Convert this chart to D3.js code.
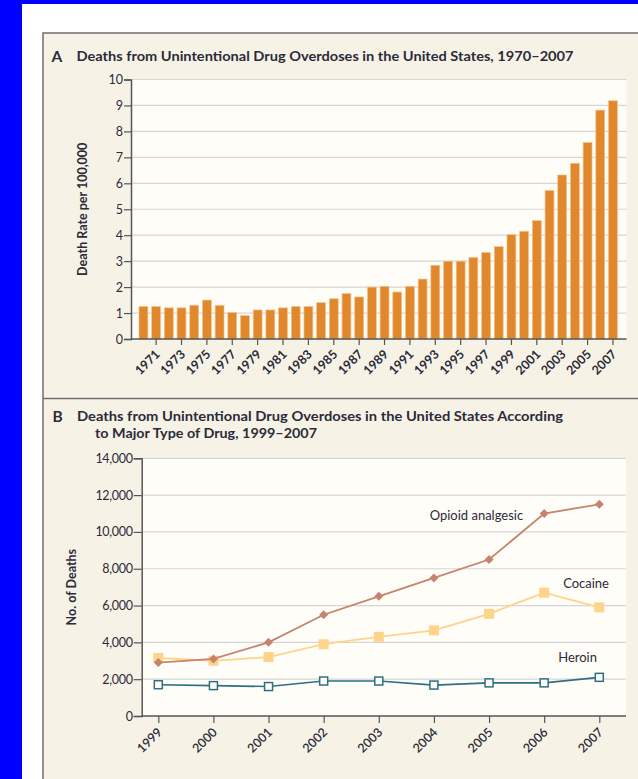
<!DOCTYPE html>
<html>
<head>
<meta charset="utf-8">
<script src="https://cdn.jsdelivr.net/npm/d3@7"></script>
<style>
  html, body { margin: 0; padding: 0; background: #ffffff; }
  svg { display: block; }
  text { font-family: Lato, "Open Sans", "DejaVu Sans", sans-serif; fill: #2b2b3a; }
</style>
</head>
<body>
<svg id="chart" width="638" height="779"></svg>
<script>
// Panel A: unintentional drug overdose death rate per 100,000, 1970-2007
const yearsA = [1970, 1971, 1972, 1973, 1974, 1975, 1976, 1977, 1978, 1979,
                1980, 1981, 1982, 1983, 1984, 1985, 1986, 1987, 1988, 1989,
                1990, 1991, 1992, 1993, 1994, 1995, 1996, 1997, 1998, 1999,
                2000, 2001, 2002, 2003, 2004, 2005, 2006, 2007];
const ratesA = [1.25, 1.25, 1.2, 1.2, 1.3, 1.5, 1.3, 1.02, 0.9, 1.12,
                1.12, 1.2, 1.25, 1.25, 1.4, 1.55, 1.75, 1.62, 2.0, 2.03,
                1.81, 2.03, 2.31, 2.84, 3.0, 3.0, 3.14, 3.33, 3.56, 4.02,
                4.15, 4.56, 5.72, 6.32, 6.77, 7.57, 8.82, 9.18];
const tickYearsA = [1971, 1973, 1975, 1977, 1979, 1981, 1983, 1985, 1987, 1989,
                    1991, 1993, 1995, 1997, 1999, 2001, 2003, 2005, 2007];
const ticksA = [0, 1, 2, 3, 4, 5, 6, 7, 8, 9, 10];

// Panel B: number of deaths by major type of drug, 1999-2007
const yearsB = [1999, 2000, 2001, 2002, 2003, 2004, 2005, 2006, 2007];
const opioid = [2900, 3100, 4000, 5500, 6500, 7500, 8500, 11000, 11500];
const cocaine = [3150, 3000, 3200, 3900, 4300, 4650, 5550, 6700, 5900];
const heroin = [1700, 1650, 1600, 1900, 1900, 1680, 1800, 1800, 2100];
const ticksB = [0, 2000, 4000, 6000, 8000, 10000, 12000, 14000];
const seriesNames = ["Opioid analgesic", "Cocaine", "Heroin"];

const svg = d3.select("#chart");
const ink = "#2b2b3a";
const gridColor = "#d6d6d6";
const axisColor = "#555555";

// frame: blue edge, white page, beige panel
svg.append("rect").attr("x", 0).attr("y", 0).attr("width", 638).attr("height", 779).attr("fill", "#0000ff");
svg.append("rect").attr("x", 22).attr("y", 4).attr("width", 616).attr("height", 775).attr("fill", "#ffffff");
svg.append("rect").attr("x", 43).attr("y", 33).attr("width", 620).attr("height", 780)
  .attr("fill", "#f6f3e6").attr("stroke", "#6f6f6f").attr("stroke-width", 1.5);
svg.append("line").attr("x1", 43).attr("x2", 638).attr("y1", 398.5).attr("y2", 398.5)
  .attr("stroke", "#6f6f6f").attr("stroke-width", 1.5);

// ---------- Panel A ----------
const A = { left: 131, right: 626.5, top: 79.5, bottom: 339 };
const xA = d3.scaleBand().domain(yearsA).range([137.1, 619.3]).paddingInner(0.3).paddingOuter(0.15);
const yA = d3.scaleLinear().domain([0, 10]).range([A.bottom, A.top]);

svg.append("text").attr("x", 51.5).attr("y", 61.5).attr("font-size", 15.5).attr("font-weight", 700).text("A");
svg.append("text").attr("x", 76.5).attr("y", 61).attr("font-size", 13).attr("font-weight", 700)
  .attr("textLength", 497).attr("lengthAdjust", "spacingAndGlyphs")
  .text("Deaths from Unintentional Drug Overdoses in the United States, 1970\u20132007");

const gA = svg.append("g");
gA.append("rect").attr("x", A.left).attr("y", A.top).attr("width", A.right - A.left)
  .attr("height", A.bottom - A.top).attr("fill", "#fffdf7");
gA.selectAll("line.grid").data(ticksA.filter(d => d > 0)).join("line")
  .attr("class", "grid").attr("x1", A.left).attr("x2", A.right)
  .attr("y1", d => yA(d)).attr("y2", d => yA(d))
  .attr("stroke", gridColor).attr("stroke-width", 1.2);

gA.selectAll("rect.bar").data(yearsA).join("rect")
  .attr("class", "bar")
  .attr("x", d => xA(d)).attr("width", xA.bandwidth())
  .attr("y", (d, i) => yA(ratesA[i])).attr("height", (d, i) => yA(0) - yA(ratesA[i]))
  .attr("fill", "#e0882b").attr("stroke", "#f4c28c").attr("stroke-width", 0.7);

const axA = gA.append("g").attr("transform", `translate(${A.left},0)`)
  .call(d3.axisLeft(yA).tickValues(ticksA).tickSize(7).tickPadding(1));
axA.select(".domain").attr("stroke", axisColor).attr("stroke-width", 1.5);
axA.selectAll(".tick line").attr("stroke", axisColor).attr("stroke-width", 1.2);
axA.selectAll(".tick text").attr("font-size", 12.5).style("font-family", "Lato, sans-serif").attr("fill", ink);

const axAx = gA.append("g").attr("transform", `translate(0,${A.bottom})`)
  .call(d3.axisBottom(xA).tickValues(tickYearsA).tickSizeOuter(0).tickSize(6));
axAx.select(".domain").attr("stroke", axisColor).attr("stroke-width", 1.5)
  .attr("d", `M${A.left},0H${A.right}`);
axAx.selectAll(".tick line").attr("stroke", axisColor).attr("stroke-width", 1.2);
axAx.selectAll(".tick text").attr("font-size", 12.5).attr("font-weight", 700)
  .style("font-family", "Lato, sans-serif").attr("fill", ink)
  .attr("text-anchor", "end").attr("dy", 0).attr("y", 0)
  .attr("transform", "translate(4.5,16) rotate(-45)");

svg.append("text").attr("transform", `translate(87,${(A.top + A.bottom) / 2}) rotate(-90)`)
  .attr("text-anchor", "middle").attr("font-size", 12.5).attr("font-weight", 700)
  .text("Death Rate per 100,000");

// ---------- Panel B ----------
const B = { left: 141.7, right: 626, top: 458.3, bottom: 716 };
const xB = d3.scalePoint().domain(yearsB).range([158.3, 599.3]);
const yB = d3.scaleLinear().domain([0, 14000]).range([B.bottom, B.top]);

svg.append("text").attr("x", 52.5).attr("y", 421.5).attr("font-size", 15.5).attr("font-weight", 700).text("B");
svg.append("text").attr("x", 77).attr("y", 421).attr("font-size", 13).attr("font-weight", 700)
  .attr("textLength", 486).attr("lengthAdjust", "spacingAndGlyphs")
  .text("Deaths from Unintentional Drug Overdoses in the United States According");
svg.append("text").attr("x", 95).attr("y", 438).attr("font-size", 13).attr("font-weight", 700)
  .attr("textLength", 222).attr("lengthAdjust", "spacingAndGlyphs")
  .text("to Major Type of Drug, 1999\u20132007");

const gB = svg.append("g");
gB.append("rect").attr("x", B.left).attr("y", B.top).attr("width", B.right - B.left)
  .attr("height", B.bottom - B.top).attr("fill", "#fffdf7");
gB.selectAll("line.grid").data(ticksB.filter(d => d > 0)).join("line")
  .attr("class", "grid").attr("x1", B.left).attr("x2", B.right)
  .attr("y1", d => yB(d)).attr("y2", d => yB(d))
  .attr("stroke", gridColor).attr("stroke-width", 1.2);

const axB = gB.append("g").attr("transform", `translate(${B.left},0)`)
  .call(d3.axisLeft(yB).tickValues(ticksB).tickFormat(d3.format(",")).tickSize(8).tickPadding(1));
axB.select(".domain").attr("stroke", axisColor).attr("stroke-width", 1.5);
axB.selectAll(".tick line").attr("stroke", axisColor).attr("stroke-width", 1.2);
axB.selectAll(".tick text").attr("font-size", 12.5).style("font-family", "Lato, sans-serif").attr("fill", ink)
  .attr("letter-spacing", "-0.3");

const axBx = gB.append("g").attr("transform", `translate(0,${B.bottom})`)
  .call(d3.axisBottom(xB).tickSize(7).tickSizeOuter(0));
axBx.select(".domain").attr("stroke", axisColor).attr("stroke-width", 1.5)
  .attr("d", `M${B.left},0H${B.right}`);
axBx.selectAll(".tick line").attr("stroke", axisColor).attr("stroke-width", 1.2);
axBx.selectAll(".tick text").attr("font-size", 12.5).attr("font-weight", 600)
  .style("font-family", "Lato, sans-serif").attr("fill", ink)
  .attr("text-anchor", "end").attr("dy", 0).attr("y", 0)
  .attr("transform", "translate(4,17) rotate(-45)");

svg.append("text").attr("transform", `translate(76,${(B.top + B.bottom) / 2}) rotate(-90)`)
  .attr("text-anchor", "middle").attr("font-size", 12.5).attr("font-weight", 700)
  .text("No. of Deaths");

const line = d3.line().x((d, i) => xB(yearsB[i])).y(d => yB(d));

// heroin: open squares
const heroinColor = "#2f6f86";
gB.append("path").datum(heroin).attr("d", line).attr("fill", "none")
  .attr("stroke", heroinColor).attr("stroke-width", 1.6);
gB.selectAll("rect.heroin").data(heroin).join("rect").attr("class", "heroin")
  .attr("x", (d, i) => xB(yearsB[i]) - 4).attr("y", d => yB(d) - 4)
  .attr("width", 8).attr("height", 8)
  .attr("fill", "#fffdf7").attr("stroke", heroinColor).attr("stroke-width", 1.5);

// cocaine: filled squares
const cocaineColor = "#fdd48a";
gB.append("path").datum(cocaine).attr("d", line).attr("fill", "none")
  .attr("stroke", cocaineColor).attr("stroke-width", 1.8);
gB.selectAll("rect.cocaine").data(cocaine).join("rect").attr("class", "cocaine")
  .attr("x", (d, i) => xB(yearsB[i]) - 5).attr("y", d => yB(d) - 5)
  .attr("width", 10).attr("height", 10).attr("fill", cocaineColor);

// opioid analgesic: diamonds
const opioidColor = "#c5846f";
gB.append("path").datum(opioid).attr("d", line).attr("fill", "none")
  .attr("stroke", opioidColor).attr("stroke-width", 1.8);
gB.selectAll("path.opioid").data(opioid).join("path").attr("class", "opioid")
  .attr("d", (d, i) => {
    const x = xB(yearsB[i]), y = yB(d), r = 4.5;
    return `M${x},${y - r}L${x + r},${y}L${x},${y + r}L${x - r},${y}Z`;
  })
  .attr("fill", opioidColor);

// series labels
const labelY = [520, 587.5, 662];
const labelX = [xB(2006) - 21, 609, 597];
gB.selectAll("text.series").data(seriesNames).join("text").attr("class", "series")
  .attr("x", (d, i) => labelX[i]).attr("y", (d, i) => labelY[i])
  .attr("text-anchor", "end").attr("font-size", 13).attr("fill", "#3a3a48")
  .text(d => d);
</script>
</body>
</html>
